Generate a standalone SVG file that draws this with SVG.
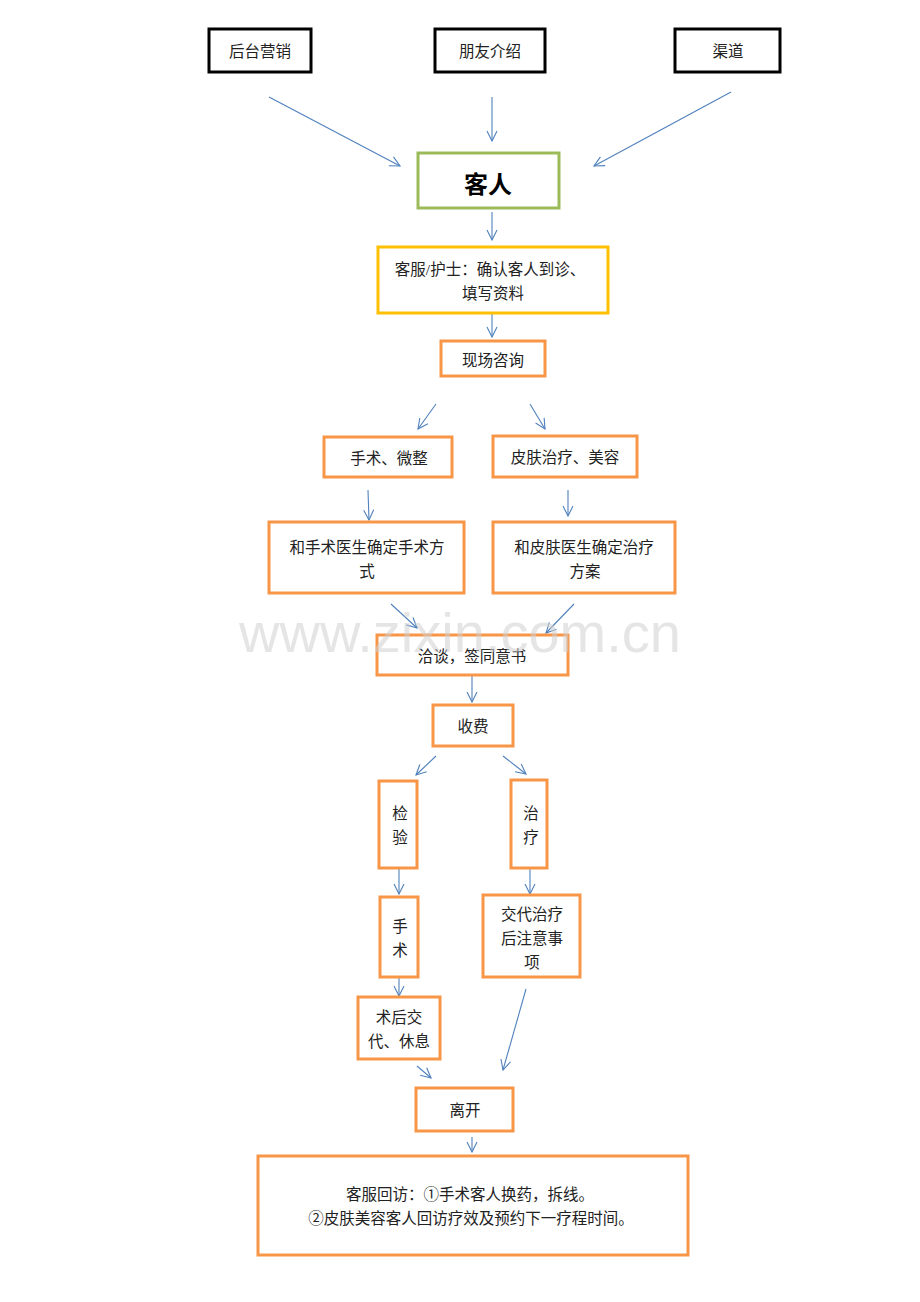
<svg xmlns="http://www.w3.org/2000/svg" width="920" height="1302" viewBox="0 0 920 1302">
<style>
text{font-family:"Liberation Serif","Noto Sans CJK SC",serif;font-size:15.5px;fill:#222;text-anchor:middle;dominant-baseline:central}
.blk{fill:#fff;stroke:#000;stroke-width:3}
.grn{fill:#fff;stroke:#9BBB59;stroke-width:3}
.yel{fill:#fff;stroke:#FFC000;stroke-width:3}
.org{fill:#fff;stroke:#F79646;stroke-width:3}
.c line{stroke:#4F81BD;stroke-width:1.1;marker-end:url(#ah)}
.wm{font-family:"Liberation Sans",Arial,sans-serif;font-size:56px;fill:#cfcfcf;fill-opacity:0.55;dominant-baseline:auto}
</style>
<defs>
<marker id="ah" viewBox="0 0 12 12" refX="11" refY="6" markerWidth="12" markerHeight="12" markerUnits="userSpaceOnUse" orient="auto">
<path d="M1,1 L11,6 L1,11" fill="none" stroke="#4F81BD" stroke-width="1.1"/>
</marker>
</defs>
<rect width="920" height="1302" fill="#fff"/>
<g class="c">
<line x1="269" y1="97" x2="400" y2="166"/>
<line x1="492" y1="97" x2="492" y2="141"/>
<line x1="731" y1="92" x2="594" y2="166"/>
<line x1="492" y1="212" x2="492" y2="240"/>
<line x1="492" y1="314" x2="492" y2="337"/>
<line x1="436" y1="404" x2="418" y2="429"/>
<line x1="530" y1="404" x2="545" y2="429"/>
<line x1="368" y1="490" x2="369" y2="520"/>
<line x1="568" y1="490" x2="568" y2="516"/>
<line x1="391" y1="604" x2="417" y2="628"/>
<line x1="574" y1="604" x2="546" y2="633"/>
<line x1="472" y1="676" x2="472" y2="702"/>
<line x1="436" y1="756" x2="416" y2="775"/>
<line x1="503" y1="756" x2="526" y2="774"/>
<line x1="399" y1="869" x2="399" y2="894"/>
<line x1="530" y1="869" x2="530" y2="894"/>
<line x1="399" y1="978" x2="399" y2="996"/>
<line x1="526" y1="989" x2="503" y2="1070"/>
<line x1="417" y1="1066" x2="431" y2="1078"/>
<line x1="472" y1="1137" x2="472" y2="1152"/>
</g>
<g id="n1"><rect class="blk" x="209" y="29" width="102" height="43"/><text x="260" y="51">后台营销</text></g>
<g id="n2"><rect class="blk" x="435" y="29" width="110" height="43"/><text x="490" y="51">朋友介绍</text></g>
<g id="n3"><rect class="blk" x="675" y="29" width="105" height="43"/><text x="728" y="51">渠道</text></g>
<g id="n4"><rect class="grn" x="418" y="153" width="141" height="55"/><text x="488" y="185" style="font-size:24px;font-weight:bold;fill:#000">客人</text></g>
<g id="n5"><rect class="yel" x="378" y="247" width="230" height="66"/><text x="490" y="269">客服/护士：确认客人到诊、</text><text x="493" y="293">填写资料</text></g>
<g id="n6"><rect class="org" x="441" y="341" width="104" height="35"/><text x="493" y="360">现场咨询</text></g>
<g id="n7"><rect class="org" x="324" y="437" width="128" height="40"/><text x="389" y="458">手术、微整</text></g>
<g id="n8"><rect class="org" x="493" y="436" width="144" height="41"/><text x="565" y="457">皮肤治疗、美容</text></g>
<g id="n9"><rect class="org" x="269" y="522" width="195" height="71"/><text x="367" y="547">和手术医生确定手术方</text><text x="367" y="571">式</text></g>
<g id="n10"><rect class="org" x="493" y="522" width="182" height="71"/><text x="584" y="547">和皮肤医生确定治疗</text><text x="585" y="571">方案</text></g>
<g id="n11"><rect class="org" x="377" y="635" width="191" height="40"/><text x="472" y="656">洽谈，签同意书</text></g>
<g id="n12"><rect class="org" x="433" y="705" width="80" height="41"/><text x="473" y="726">收费</text></g>
<g id="n13"><rect class="org" x="379" y="781" width="38" height="87"/><text x="400" y="813">检</text><text x="400" y="837">验</text></g>
<g id="n14"><rect class="org" x="511" y="780" width="36" height="88"/><text x="531" y="813">治</text><text x="531" y="837">疗</text></g>
<g id="n15"><rect class="org" x="380" y="897" width="38" height="80"/><text x="400" y="926">手</text><text x="400" y="950">术</text></g>
<g id="n16"><rect class="org" x="483" y="895" width="97" height="82"/><text x="532" y="914">交代治疗</text><text x="532" y="938">后注意事</text><text x="532" y="962">项</text></g>
<g id="n17"><rect class="org" x="358" y="997" width="82" height="62"/><text x="399" y="1017">术后交</text><text x="399" y="1041">代、休息</text></g>
<g id="n18"><rect class="org" x="416" y="1088" width="97" height="43"/><text x="465" y="1110">离开</text></g>
<g id="n19"><rect class="org" x="258" y="1156" width="430" height="99"/><text x="470" y="1194">客服回访：①手术客人换药，拆线。</text><text x="471" y="1218">②皮肤美容客人回访疗效及预约下一疗程时间。</text></g>
<text class="wm" x="460" y="652">www.zixin.com.cn</text>
</svg>
